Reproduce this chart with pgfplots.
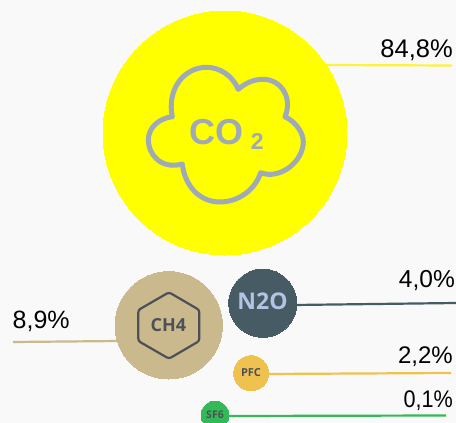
\documentclass[border=0pt]{standalone}
\usepackage{fontspec}
\setmainfont{Liberation Sans}
\newfontfamily\iconfont{Open Sans}
\usepackage{pgfplots}
\pgfplotsset{compat=1.18}
\definecolor{bg}{HTML}{F9F9F9}
\definecolor{coii}{HTML}{FFFF00}
\definecolor{coiiline}{HTML}{FFF23A}
\definecolor{chiv}{HTML}{C9B98D}
\definecolor{nio}{HTML}{475B64}
\definecolor{pfc}{HTML}{EFC24F}
\definecolor{sfvi}{HTML}{33B957}
\definecolor{icongrey}{HTML}{9EAAB8}
\definecolor{icondark}{HTML}{4E5058}
\definecolor{nitext}{HTML}{B0C4E4}
\newcommand{\fs}[1]{\fontsize{#1}{#1}\selectfont}
\pgfplotsset{
  bubble/.style={only marks, mark=*, color=#1, mark options={fill=#1, line width=0pt}},
  leader/.style={#1, line width=2.2pt},
}
\tikzset{share/.style={inner sep=0pt, font=\fs{#1}}}
\begin{document}
\begin{tikzpicture}
\useasboundingbox (0,0) rectangle (456pt,423pt);
\begin{axis}[
    at={(0,0)}, anchor=south west,
    width=456pt, height=423pt, scale only axis,
    xmin=0, xmax=456, ymin=0, ymax=423, y dir=reverse,
    ticks=none, axis line style={draw=none},
    axis background/.style={fill=bg},
    clip mode=individual, clip marker paths=true,
]
% leader lines
\addplot[leader=coiiline] coordinates {(327,65) (452,65.5)};
\addplot[leader=chiv] coordinates {(13,342) (120,341)};
\addplot[leader=nio] coordinates {(294,305) (456,303)};
\addplot[leader=pfc] coordinates {(266,374) (451,373)};
\addplot[leader=sfvi] coordinates {(226,416) (446,415.5)};
% bubbles
\addplot[bubble=coii, mark size=122pt] coordinates {(225,133)};
\addplot[bubble=chiv, mark size=53.7pt] coordinates {(168.7,325.3)};
\addplot[bubble=nio, mark size=34pt] coordinates {(262.8,303.3)};
\addplot[bubble=pfc, mark size=17.5pt] coordinates {(251.2,373.2)};
\addplot[bubble=sfvi, mark size=14pt] coordinates {(215,415)};
% cloud icon
\draw[icongrey, line width=5pt, line join=round]
  (axis cs:172.3,116.7)
  .. controls (axis cs:166.7,90) and (axis cs:183.3,67.3) .. (axis cs:206.7,67.3)
  .. controls (axis cs:220,67.3) and (axis cs:232.7,76) .. (axis cs:238.3,89.3)
  .. controls (axis cs:245,83.3) and (axis cs:253.3,79.3) .. (axis cs:263.3,79.3)
  .. controls (axis cs:280,79.3) and (axis cs:293.3,96.7) .. (axis cs:285,116.7)
  .. controls (axis cs:298.3,123.3) and (axis cs:303.3,135) .. (axis cs:303.3,141.7)
  .. controls (axis cs:303.3,161.7) and (axis cs:280,180) .. (axis cs:260.7,172.7)
  .. controls (axis cs:255,190) and (axis cs:238.3,202) .. (axis cs:220,202)
  .. controls (axis cs:200,202) and (axis cs:185,186.7) .. (axis cs:182.3,164)
  .. controls (axis cs:160,170) and (axis cs:148.3,153.3) .. (axis cs:148.3,140)
  .. controls (axis cs:148.3,128.3) and (axis cs:158.3,118.3) .. (axis cs:172.3,116.7)
  -- cycle;
% hexagon icon
\draw[icondark, line width=2.2pt, rounded corners=2.5pt]
  (axis cs:199.3,325) -- (axis cs:199.3,341) -- (axis cs:169,358.7) -- (axis cs:138.3,341)
  -- (axis cs:138.3,310) -- (axis cs:169,292.3) -- (axis cs:199.3,310) -- cycle;
% bubble names
\node[icongrey, anchor=base, font=\fs{36}\bfseries] at (axis cs:216.5,144.5) {CO};
\node[icongrey, anchor=base, font=\fs{23}\bfseries] at (axis cs:257.3,149) {2};
\node[icondark, anchor=center, font=\iconfont\fs{18}\bfseries] at (axis cs:168.5,325.5) {CH4};
\node[nitext, anchor=center, font=\iconfont\fs{23}\bfseries] at (axis cs:262.5,301.5) {N2O};
\node[icondark, anchor=center, font=\iconfont\fs{11}\bfseries] at (axis cs:251,373) {PFC};
\node[icondark, anchor=center, font=\iconfont\fs{10.5}\bfseries] at (axis cs:215,414.5) {SF6};
% shares
\node[share=25.5, anchor=base east] at (axis cs:453,57) {84,8\%};
\node[share=25, anchor=base west] at (axis cs:12.5,328) {8,9\%};
\node[share=24.5, anchor=base east] at (axis cs:455,287) {4,0\%};
\node[share=24, anchor=base east] at (axis cs:453,363.3) {2,2\%};
\node[share=24, xscale=0.9, anchor=base east] at (axis cs:453,407) {0,1\%};
\end{axis}
\end{tikzpicture}
\end{document}
